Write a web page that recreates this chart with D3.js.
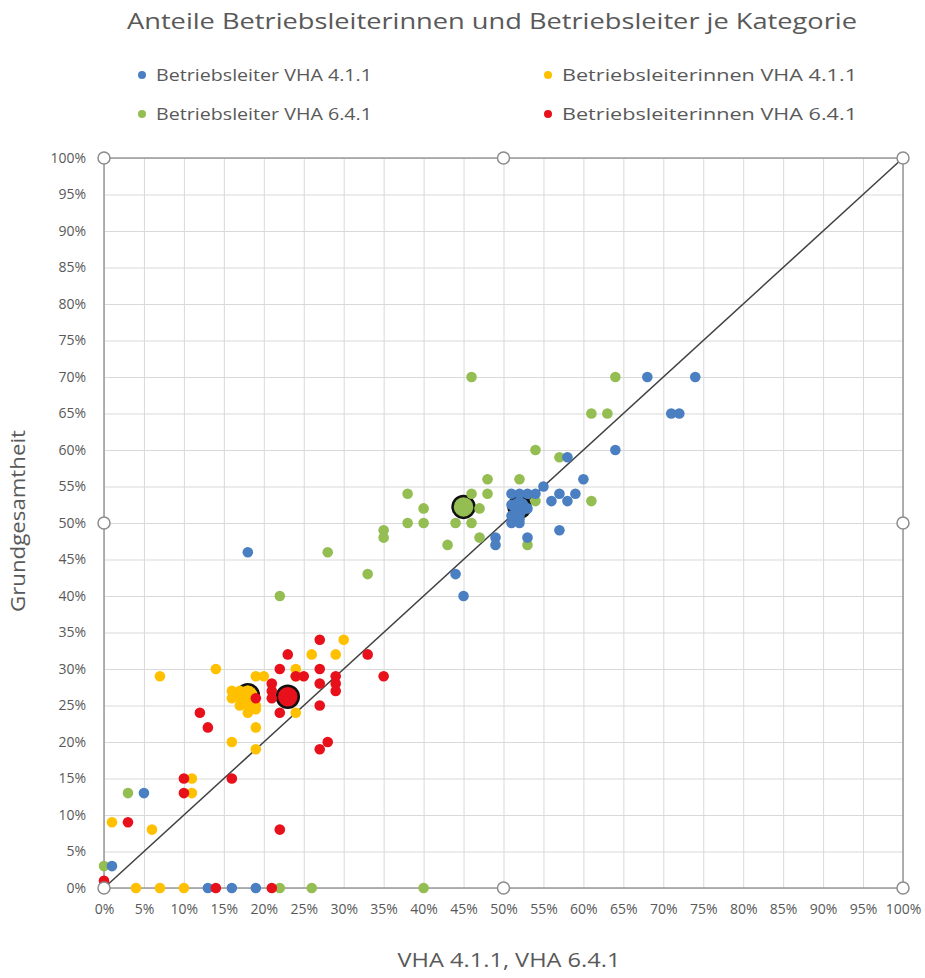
<!DOCTYPE html>
<html>
<head>
<meta charset="utf-8">
<script src="https://cdn.jsdelivr.net/npm/d3@7"></script>
<style>
  body { margin: 0; background: #fff; }
  text { font-family: "Open Sans", "Noto Sans", sans-serif; fill: #595959; }
</style>
</head>
<body>
<div id="chart"></div>
<script>
// values in percent
var seriesNames = ["Betriebsleiter VHA 4.1.1", "Betriebsleiterinnen VHA 4.1.1", "Betriebsleiter VHA 6.4.1", "Betriebsleiterinnen VHA 6.4.1"];
var seriesColors = ["#4a7fc1", "#ffc000", "#94bd52", "#e8101a"];

var blueX = [1, 5, 13, 16, 19, 18, 44, 45, 49, 49, 51, 52, 52, 53, 51, 52, 53, 54, 53, 55, 56, 57, 57, 58, 59, 58, 60, 64, 68, 71, 72, 74, 51, 52, 51];
var blueY = [3, 13, 0, 0, 0, 46, 43, 40, 48, 47, 50, 50, 51, 52, 52.5, 54, 54, 54, 48, 55, 53, 54, 49, 53, 54, 59, 56, 60, 70, 65, 65, 70, 54, 50.5, 51];

var yellowX = [1, 4, 6, 7, 7, 10, 11, 11, 14, 16, 16, 17, 17, 18, 18, 18, 19, 20, 19, 19, 24, 24, 26, 29, 30, 16, 17, 18, 19, 19, 24];
var yellowY = [9, 0, 8, 0, 29, 0, 15, 13, 30, 20, 26, 26, 25, 27, 25, 24, 29, 29, 22, 19, 30, 24, 32, 32, 34, 27, 27, 26, 25, 24.5, 29];

var greenX = [0, 3, 22, 26, 40, 22, 28, 33, 35, 35, 38, 38, 40, 40, 43, 44, 46, 46, 46, 47, 47, 48, 48, 52, 53, 54, 54, 57, 61, 61, 63, 64];
var greenY = [3, 13, 0, 0, 0, 40, 46, 43, 49, 48, 50, 54, 52, 50, 47, 50, 50, 54, 70, 52, 48, 56, 54, 56, 47, 53, 60, 59, 53, 65, 65, 70];

var redX = [0, 3, 10, 10, 12, 13, 14, 16, 19, 21, 21, 21, 21, 22, 22, 22, 23, 24, 25, 27, 27, 27, 27, 27, 28, 29, 29, 29, 33, 35];
var redY = [1, 9, 15, 13, 24, 22, 0, 15, 26, 0, 28, 27, 26, 30, 24, 8, 32, 29, 29, 34, 30, 28, 25, 19, 20, 29, 28, 27, 32, 29];

// mean point of each series (blue, yellow, green, red)
var meanX = [52, 18, 45, 23];
var meanY = [52.2, 26.4, 52.2, 26.2];

var tickValues = [0, 5, 10, 15, 20, 25, 30, 35, 40, 45, 50, 55, 60, 65, 70, 75, 80, 85, 90, 95, 100];
var handleX = [0, 50, 100, 0, 100, 0, 50, 100];
var handleY = [0, 0, 0, 50, 50, 100, 100, 100];

var W = 925, H = 978;
var margin = { left: 104, top: 158, right: 22, bottom: 90 };
var width = W - margin.left - margin.right;
var height = H - margin.top - margin.bottom;

var svg = d3.select("#chart").append("svg").attr("width", W).attr("height", H);

var x = d3.scaleLinear().domain([0, 100]).range([0, width]);
var y = d3.scaleLinear().domain([0, 100]).range([height, 0]);

var g = svg.append("g").attr("transform", "translate(" + margin.left + "," + margin.top + ")");

// grid via axes
var gx = g.append("g").attr("transform", "translate(0," + height + ")")
    .call(d3.axisBottom(x).tickValues(tickValues).tickSize(-height).tickPadding(16).tickFormat(function (d) { return d + "%"; }));
var gy = g.append("g")
    .call(d3.axisLeft(y).tickValues(tickValues).tickSize(-width).tickPadding(18).tickFormat(function (d) { return d + "%"; }));
[gx, gy].forEach(function (a) {
    a.select(".domain").remove();
    a.selectAll(".tick line").attr("stroke", "#d9d9d9").attr("stroke-width", 1);
    a.selectAll(".tick text").style("font-size", "14px").attr("fill", "#595959").style("font-family", "'Open Sans', sans-serif");
});

// plot frame
g.append("rect").attr("x", 0).attr("y", 0).attr("width", width).attr("height", height)
    .attr("fill", "none").attr("stroke", "#999").attr("stroke-width", 1.5);

// diagonal
g.append("line")
    .attr("x1", x(0)).attr("y1", y(0)).attr("x2", x(100)).attr("y2", y(100))
    .attr("stroke", "#404040").attr("stroke-width", 1.5);

// means
meanX.forEach(function (mx, i) {
    g.append("circle").attr("cx", x(mx)).attr("cy", y(meanY[i])).attr("r", 11)
        .attr("fill", seriesColors[i]).attr("stroke", "#111").attr("stroke-width", 2.5);
});

// points: green, blue, yellow, red
var layers = [
    { xs: greenX, ys: greenY, c: seriesColors[2] },
    { xs: blueX, ys: blueY, c: seriesColors[0] },
    { xs: yellowX, ys: yellowY, c: seriesColors[1] },
    { xs: redX, ys: redY, c: seriesColors[3] }
];
layers.forEach(function (l) {
    g.append("g").selectAll("circle").data(l.xs).join("circle")
        .attr("cx", function (d) { return x(d); })
        .attr("cy", function (d, i) { return y(l.ys[i]); })
        .attr("r", 5.3)
        .attr("fill", l.c);
});

// handles
g.append("g").selectAll("circle").data(handleX).join("circle")
    .attr("cx", function (d) { return x(d); })
    .attr("cy", function (d, i) { return y(handleY[i]); })
    .attr("r", 6).attr("fill", "#fff").attr("stroke", "#8c8c8c").attr("stroke-width", 1.5);

// title
svg.append("text").attr("x", 492).attr("y", 29).attr("text-anchor", "middle")
    .style("font-size", "22px").attr("textLength", 730).attr("lengthAdjust", "spacingAndGlyphs")
    .text("Anteile Betriebsleiterinnen und Betriebsleiter je Kategorie");

// legend
var legX = [142, 548, 142, 548];
var legY = [75, 75, 114, 114];
var legW = [216, 295, 216, 295];
var legOrder = [0, 1, 2, 3];
legOrder.forEach(function (s, i) {
    svg.append("circle").attr("cx", legX[i]).attr("cy", legY[i]).attr("r", 4).attr("fill", seriesColors[s]);
    svg.append("text").attr("x", legX[i] + 14).attr("y", legY[i] + 6)
        .style("font-size", "17px").attr("textLength", legW[i]).attr("lengthAdjust", "spacingAndGlyphs")
        .text(seriesNames[s]);
});

// axis titles
svg.append("text").attr("transform", "translate(25," + (margin.top + height / 2 - 2) + ") rotate(-90)")
    .attr("text-anchor", "middle").style("font-size", "20px")
    .attr("textLength", 182).attr("lengthAdjust", "spacingAndGlyphs")
    .text("Grundgesamtheit");
svg.append("text").attr("x", 509).attr("y", 967).attr("text-anchor", "middle")
    .style("font-size", "20px").attr("textLength", 223).attr("lengthAdjust", "spacingAndGlyphs")
    .text("VHA 4.1.1, VHA 6.4.1");
</script>
</body>
</html>
